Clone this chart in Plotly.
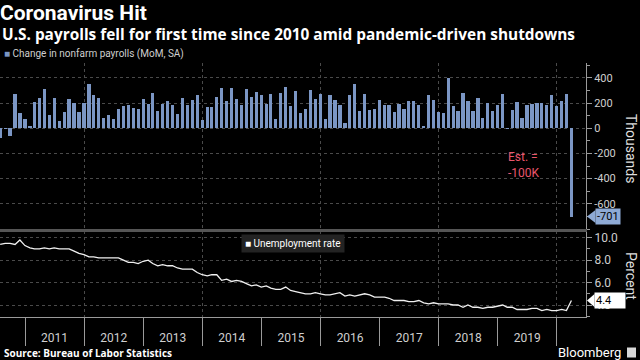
import pandas as pd
import plotly.graph_objects as go

# ---------------- data ----------------
# Monthly change in nonfarm payrolls, thousands, Jul 2010 .. Mar 2020
payrolls = [
    -75, -5, -60, 268, 124, 71,                                   # 2010 Jul-Dec
    18, 210, 237, 313, 103, 237, 58, 126, 231, 203, 132, 203,     # 2011
    352, 263, 239, 82, 103, 71, 153, 174, 187, 160, 155, 234,     # 2012
    192, 279, 139, 192, 218, 184, 113, 239, 187, 224, 263, 68,    # 2013
    171, 166, 252, 323, 218, 323, 231, 187, 308, 252, 289, 266,   # 2014
    192, 271, 71, 281, 331, 174, 297, 121, 155, 302, 234, 273,    # 2015
    71, 260, 226, 184, 42, 263, 352, 134, 271, 142, 153, 226,     # 2016
    187, 187, 126, 195, 155, 213, 213, 181, 16, 266, 224, 129,    # 2017
    121, 402, 176, 134, 276, 218, 134, 242, 79, 197, 134, 181,    # 2018
    268, 1, 147, 208, 82, 181, 195, 203, 203, 184, 260, 179,      # 2019
    213, 271, -701,                                               # 2020 Jan-Mar
]

# Unemployment rate, percent, Jul 2010 .. Mar 2020
unemployment = [
    9.4, 9.5, 9.5, 9.4, 9.8, 9.3,
    9.1, 9.0, 9.0, 9.1, 9.0, 9.1, 9.0, 9.0, 9.0, 8.8, 8.6, 8.5,
    8.3, 8.3, 8.2, 8.2, 8.2, 8.2, 8.2, 8.0, 7.8, 7.8, 7.7, 7.9,
    8.0, 7.7, 7.5, 7.6, 7.5, 7.5, 7.3, 7.2, 7.2, 7.2, 6.9, 6.7,
    6.6, 6.7, 6.7, 6.2, 6.3, 6.1, 6.2, 6.1, 5.9, 5.7, 5.8, 5.6,
    5.7, 5.5, 5.4, 5.4, 5.6, 5.3, 5.2, 5.1, 5.0, 5.0, 5.1, 5.0,
    4.9, 4.9, 5.0, 5.1, 4.8, 4.9, 4.8, 4.9, 5.0, 4.9, 4.7, 4.7,
    4.7, 4.6, 4.4, 4.4, 4.4, 4.3, 4.3, 4.4, 4.2, 4.1, 4.2, 4.1,
    4.1, 4.1, 4.0, 4.0, 3.8, 4.0, 3.8, 3.8, 3.7, 3.8, 3.8, 3.9,
    4.0, 3.8, 3.8, 3.6, 3.6, 3.6, 3.7, 3.7, 3.5, 3.6, 3.5, 3.5,
    3.6, 3.5, 4.4,
]

year_labels = ["2011", "2012", "2013", "2014", "2015", "2016", "2017", "2018", "2019"]
payroll_ticks = [-600, -400, -200, 0, 200, 400]
rate_ticks = [4, 6, 8, 10]
estimate_text = "Est. =<br>-100K"

# month-end dates for the monthly observations
n = len(payrolls)
months = pd.date_range("2010-08-01", periods=n, freq="MS") - pd.Timedelta(days=1)
xdates = months.strftime("%Y-%m-%d").tolist()

# ---------------- style ----------------
BAR = "#7b96c4"
GRID = "#4a4a4a"
AX = "#9a9a9a"
TXT = "#cfcfcf"
FONT = "Roboto"
HEAD = "Open Sans"

W, H = 640, 360
ML, MR, MT, MB = 0, 54, 63, 43
PW = W - ML - MR
PH = H - MT - MB


def px(xp):
    return (xp - ML) / PW


def py(yp):
    return (H - MB - yp) / PH


xr = ["2010-07-30", "2020-06-29"]
Y1 = [-800, 518]
Y2 = [2.93, 10.6]

fig = go.Figure()
fig.add_trace(go.Bar(
    x=xdates, y=payrolls, name="Change in nonfarm payrolls (MoM, SA)",
    marker=dict(color=BAR, line_width=0), width=20 * 86400000,
    xaxis="x", yaxis="y", showlegend=False))
fig.add_trace(go.Scatter(
    x=xdates, y=unemployment, name="Unemployment rate", mode="lines",
    line=dict(color="#f0f0f0", width=1.3),
    xaxis="x2", yaxis="y2", showlegend=False))
# invisible twin so the year-label axis is drawn
fig.add_trace(go.Scatter(
    x=xdates, y=unemployment, mode="lines", line=dict(width=0), opacity=0,
    xaxis="x3", yaxis="y2", showlegend=False, hoverinfo="skip"))

top_dom = [py(229), 1]
bot_dom = [0, py(231)]

fig.update_layout(
    width=W, height=H,
    margin=dict(l=ML, r=MR, t=MT, b=MB, pad=0),
    paper_bgcolor="#000000", plot_bgcolor="#000000",
    font=dict(family=FONT, color=TXT),
    bargap=0,
    title=dict(text="<b>Coronavirus Hit</b>", x=0.0, xref="container", xanchor="left",
               y=1 - 12.8 / H, yref="container", yanchor="middle", pad=dict(l=0, t=0, b=0),
               font=dict(size=21, color="#ffffff", family=FONT)),
    xaxis=dict(type="date", range=xr, anchor="y", domain=[0, 1],
               tickmode="linear", tick0="2012-01-01", dtick="M24",
               ticks="", showticklabels=False, showgrid=True, gridcolor=GRID,
               griddash="dot", gridwidth=1, showline=False, zeroline=False),
    yaxis=dict(domain=top_dom, anchor="x", side="right", range=Y1,
               tickmode="array", tickvals=payroll_ticks,
               ticktext=[str(v) for v in payroll_ticks],
               ticks="outside", ticklen=5, tickcolor=AX, tickwidth=1,
               showline=True, linecolor=AX, linewidth=1,
               showgrid=True, gridcolor=GRID, griddash="dot", zeroline=False,
               tickfont=dict(size=11, color=TXT, family=FONT),
               minor=dict(tickmode="linear", tick0=0, dtick=100, ticks="outside",
                          ticklen=3, tickcolor=AX, showgrid=False)),
    xaxis2=dict(type="date", range=xr, anchor="y2", domain=[0, 1],
                tickmode="linear", tick0="2012-01-01", dtick="M24",
                ticks="outside", ticklen=28, tickcolor=AX, tickwidth=1,
                showticklabels=False, showgrid=True, gridcolor=GRID, griddash="dot",
                showline=True, linecolor=AX, linewidth=1, zeroline=False,
                minor=dict(tickmode="linear", tick0="2011-01-01", dtick="M12",
                           ticks="outside", ticklen=28, tickcolor=AX, tickwidth=1,
                           showgrid=False)),
    xaxis3=dict(type="date", range=xr, overlaying="x2", anchor="y2", side="bottom",
                tickmode="array", tickvals=[f"{y}-07-02" for y in year_labels],
                ticktext=year_labels, ticks="outside", ticklen=10,
                tickcolor="rgba(0,0,0,0)", showgrid=False, showline=False,
                zeroline=False, tickfont=dict(size=12, color=TXT, family=FONT)),
    yaxis2=dict(domain=bot_dom, anchor="x2", side="right", range=Y2,
                tickmode="array", tickvals=rate_ticks,
                ticktext=[f"{v:.1f}" for v in rate_ticks],
                ticks="outside", ticklen=5, tickcolor=AX, tickwidth=1,
                showline=True, linecolor=AX, linewidth=1,
                showgrid=True, gridcolor=GRID, griddash="dot", zeroline=False,
                tickfont=dict(size=12, color=TXT, family=FONT),
                minor=dict(tickmode="linear", tick0=0, dtick=1, ticks="outside",
                           ticklen=3, tickcolor=AX, showgrid=False)),
)

# ---------------- decorations ----------------
last_pay = payrolls[-1]
last_rate = unemployment[-1]
u1 = (Y1[1] - Y1[0]) / ((top_dom[1] - top_dom[0]) * PH)  # data units per px (top)
u2 = (Y2[1] - Y2[0]) / ((bot_dom[1] - bot_dom[0]) * PH)  # data units per px (bottom)

shapes = [
    # separator band between panels
    dict(type="rect", xref="paper", yref="paper", x0=0, x1=px(587),
         y0=py(232), y1=py(229), fillcolor="#555555", line=dict(width=0), layer="above"),
    # pointer of the -701 label
    dict(type="path", xref="paper", yref="y",
         path=f"M {px(587)},{last_pay} L {px(595.5)},{last_pay + 6.5 * u1} "
              f"L {px(595.5)},{last_pay - 6.5 * u1} Z",
         fillcolor="#8eaad5", line=dict(width=0)),
    # pointer of the 4.4 label
    dict(type="path", xref="paper", yref="y2",
         path=f"M {px(587)},{last_rate} L {px(594.5)},{last_rate + 6.5 * u2} "
              f"L {px(594.5)},{last_rate - 6.5 * u2} Z",
         fillcolor="#ffffff", line=dict(width=0)),
    # little Bloomberg logo block
    dict(type="rect", xref="paper", yref="paper", x0=px(627), x1=px(636),
         y0=py(357.5), y1=py(347.5), fillcolor="#d8d8d8", line=dict(width=0)),
]
fig.update_layout(shapes=shapes)

annotations = [
    dict(text="<b>U.S. payrolls fell for first time since 2010 amid pandemic-driven shutdowns</b>",
         xref="paper", yref="paper", x=px(0), y=py(34), xanchor="left", yanchor="middle",
         showarrow=False, font=dict(size=15.4, color="#ffffff", family=HEAD)),
    dict(text=f"<span style='color:{BAR}'>■</span> Change in nonfarm payrolls (MoM, SA)",
         xref="paper", yref="paper", x=px(2), y=py(53.5), xanchor="left", yanchor="middle",
         showarrow=False, font=dict(size=10, color=TXT, family=FONT)),
    dict(text="<span style='color:#ffffff'>■</span> Unemployment rate",
         xref="paper", yref="paper", x=px(241), y=py(243), xanchor="left", yanchor="middle",
         showarrow=False, bgcolor="#232323", borderpad=3,
         font=dict(size=10, color="#ffffff", family=FONT)),
    dict(text=estimate_text, xref="paper", yref="paper", x=px(506), y=py(165),
         xanchor="left", yanchor="middle", align="left", showarrow=False,
         font=dict(size=12, color="#e8566c", family=FONT)),
    dict(text=f"{last_pay}", xref="paper", yref="y", x=px(595), y=last_pay,
         xanchor="left", yanchor="middle", showarrow=False, bgcolor="#8eaad5",
         borderpad=1, font=dict(size=11, color="#000000", family=FONT)),
    dict(text=f"{last_rate:.1f}", xref="paper", yref="y2", x=px(594), y=last_rate,
         xanchor="left", yanchor="middle", showarrow=False, bgcolor="#ffffff",
         borderpad=1, width=28, align="left",
         font=dict(size=11, color="#000000", family=FONT)),
    dict(text="Thousands", xref="paper", yref="paper", x=px(631), y=py(148),
         xanchor="center", yanchor="middle", textangle=90, showarrow=False,
         font=dict(size=14, color="#dddddd", family=FONT)),
    dict(text="Percent", xref="paper", yref="paper", x=px(631), y=py(276),
         xanchor="center", yanchor="middle", textangle=90, showarrow=False,
         font=dict(size=14, color="#dddddd", family=FONT)),
    dict(text="<b>Source: Bureau of Labor Statistics</b>", xref="paper", yref="paper",
         x=px(2), y=py(353), xanchor="left", yanchor="middle", showarrow=False,
         font=dict(size=10, color="#ffffff", family=HEAD)),
    dict(text="Bloomberg", xref="paper", yref="paper", x=px(623), y=py(352.5),
         xanchor="right", yanchor="middle", showarrow=False,
         font=dict(size=13, color="#ffffff", family=FONT)),
]
fig.update_layout(annotations=annotations)

fig.write_html(
    "out.html",
    config={"displayModeBar": False},
    post_script="document.body.style.margin='0px';document.body.style.overflow='hidden';"
                "document.body.style.background='#000000';",
)
